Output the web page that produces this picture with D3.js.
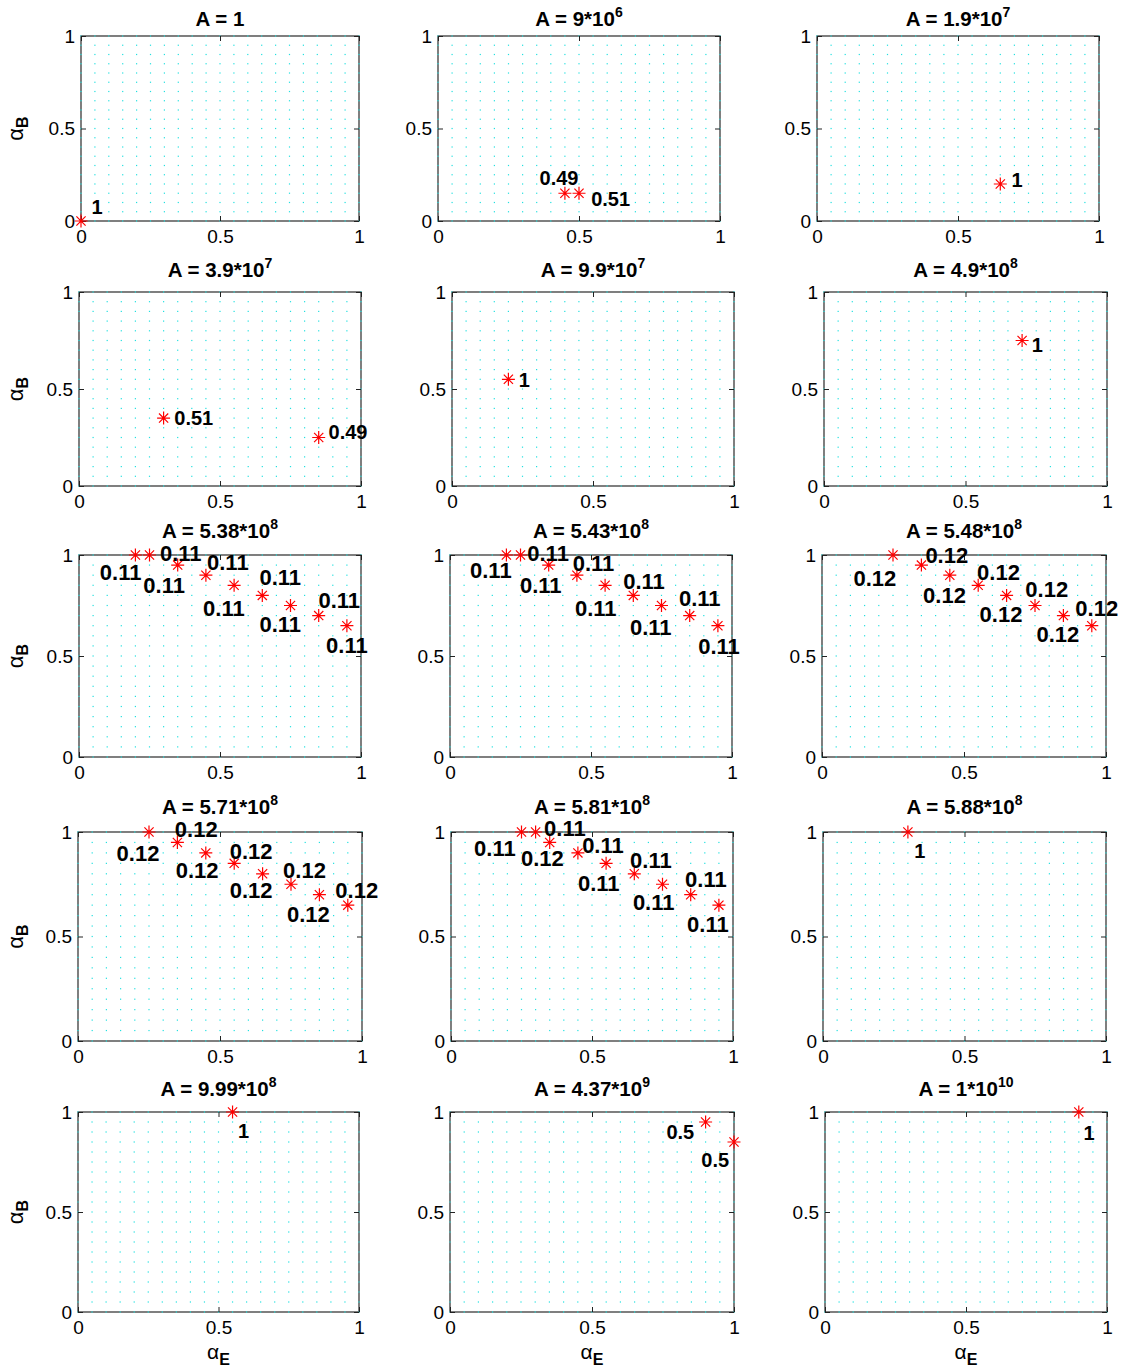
<!DOCTYPE html>
<html>
<head>
<meta charset="utf-8">
<script src="https://cdn.jsdelivr.net/npm/d3@7"></script>
<style>
  body { margin: 0; background: #fff; }
  text { font-family: "Liberation Sans", Arial, Helvetica, sans-serif; }
</style>
</head>
<body>
<script>
// panel titles: A = mantissa * 10^exp
const titleMant = ["1", "9", "1.9", "3.9", "9.9", "4.9", "5.38", "5.43", "5.48", "5.71", "5.81", "5.88", "9.99", "4.37", "1"]
const titleExp = [null, "6", "7", "7", "7", "8", "8", "8", "8", "8", "8", "8", "8", "9", "10"]

// point coordinates per panel
const alphaE = [
  [0],
  [0.45, 0.5],
  [0.65],
  [0.3, 0.85],
  [0.2],
  [0.7],
  [0.2, 0.25, 0.35, 0.45, 0.55, 0.65, 0.75, 0.85, 0.95],
  [0.2, 0.25, 0.35, 0.45, 0.55, 0.65, 0.75, 0.85, 0.95],
  [0.25, 0.35, 0.45, 0.55, 0.65, 0.75, 0.85, 0.95],
  [0.25, 0.35, 0.45, 0.55, 0.65, 0.75, 0.85, 0.95],
  [0.25, 0.3, 0.35, 0.45, 0.55, 0.65, 0.75, 0.85, 0.95],
  [0.3],
  [0.55],
  [0.9, 1.0],
  [0.9]
]
const alphaB = [
  [0],
  [0.15, 0.15],
  [0.2],
  [0.35, 0.25],
  [0.55],
  [0.75],
  [1, 1, 0.95, 0.9, 0.85, 0.8, 0.75, 0.7, 0.65],
  [1, 1, 0.95, 0.9, 0.85, 0.8, 0.75, 0.7, 0.65],
  [1, 0.95, 0.9, 0.85, 0.8, 0.75, 0.7, 0.65],
  [1, 0.95, 0.9, 0.85, 0.8, 0.75, 0.7, 0.65],
  [1, 1, 0.95, 0.9, 0.85, 0.8, 0.75, 0.7, 0.65],
  [1],
  [1],
  [0.95, 0.85],
  [1]
]

// text annotations (value, and where it was written in data units)
const shareText = [
  ["1"],
  ["0.49", "0.51"],
  ["1"],
  ["0.51", "0.49"],
  ["1"],
  ["1"],
  ["0.11", "0.11", "0.11", "0.11", "0.11", "0.11", "0.11", "0.11", "0.11"],
  ["0.11", "0.11", "0.11", "0.11", "0.11", "0.11", "0.11", "0.11", "0.11"],
  ["0.12", "0.12", "0.12", "0.12", "0.12", "0.12", "0.12", "0.12"],
  ["0.12", "0.12", "0.12", "0.12", "0.12", "0.12", "0.12", "0.12"],
  ["0.11", "0.11", "0.12", "0.11", "0.11", "0.11", "0.11", "0.11", "0.11"],
  ["1"],
  ["1"],
  ["0.5", "0.5"],
  ["1"]
]
const labelE = [
  [0.038],
  [0.36, 0.543],
  [0.69],
  [0.338, 0.885],
  [0.237],
  [0.734],
  [0.074, 0.287, 0.228, 0.454, 0.44, 0.64, 0.64, 0.849, 0.876],
  [0.071, 0.274, 0.248, 0.435, 0.443, 0.614, 0.638, 0.812, 0.88],
  [0.111, 0.364, 0.356, 0.546, 0.555, 0.716, 0.755, 0.892],
  [0.136, 0.341, 0.344, 0.534, 0.534, 0.722, 0.736, 0.906],
  [0.082, 0.33, 0.248, 0.465, 0.45, 0.635, 0.645, 0.83, 0.837],
  [0.322],
  [0.569],
  [0.762, 0.885],
  [0.917]
]
const labelB = [
  [0.078],
  [0.236, 0.118],
  [0.223],
  [0.352, 0.28],
  [0.545],
  [0.73],
  [0.917, 1.011, 0.851, 0.967, 0.736, 0.893, 0.658, 0.777, 0.554],
  [0.926, 1.011, 0.851, 0.959, 0.739, 0.871, 0.645, 0.786, 0.55],
  [0.887, 1.0, 0.804, 0.917, 0.709, 0.83, 0.609, 0.737],
  [0.9, 1.015, 0.819, 0.91, 0.724, 0.819, 0.607, 0.724],
  [0.923, 1.02, 0.876, 0.938, 0.756, 0.866, 0.665, 0.775, 0.56],
  [0.908],
  [0.908],
  [0.903, 0.76],
  [0.897]
]

const ticks = [0, 0.5, 1]
const gridSteps = d3.range(0, 21).map(k => k / 20)

// subplot layout (pixels)
const width = 1123, height = 1371
const rowTop = [36, 292, 555, 832, 1112]
const rowBottom = [221, 486, 757, 1041, 1312]
const rowTitle = [26, 277, 538, 814, 1096]
const colLeft = [[81, 438, 817], [79, 452, 824], [79, 450, 822], [78, 451, 823], [78, 450, 825]]
const colRight = [[359, 720, 1099], [361, 734, 1107], [361, 732, 1106], [362, 733, 1106], [359, 734, 1107]]

const svg = d3.select("body").append("svg")
    .attr("width", width)
    .attr("height", height)

const star = (r, d) => `M${-r},0H${r}M0,${-r}V${r}M${-d},${-d}L${d},${d}M${-d},${d}L${d},${-d}`

const styleAxis = (sel, labels) => {
    sel.select(".domain").remove()
    sel.selectAll(".tick line").attr("stroke", "#222")
    sel.selectAll(".tick text")
        .attr("fill", "#000")
        .style("font-size", "19px")
        .style("font-family", "'Liberation Sans', Arial, sans-serif")
    if (!labels) sel.selectAll(".tick text").remove()
}

titleMant.forEach((mant, i) => {
    const r = Math.floor(i / 3), c = i % 3
    const L = colLeft[r][c], R = colRight[r][c], T = rowTop[r], B = rowBottom[r]

    const x = d3.scaleLinear().domain([0, 1]).range([L, R])
    const y = d3.scaleLinear().domain([0, 1]).range([B, T])

    const g = svg.append("g")

    // frame
    g.append("rect")
        .attr("x", L).attr("y", T)
        .attr("width", R - L).attr("height", B - T)
        .attr("fill", "#fff")
        .attr("stroke", "#2a2a2a")
        .attr("stroke-width", 1.2)

    // dotted grid
    const lattice = d3.cross(gridSteps, gridSteps)
    g.append("g").selectAll("rect")
        .data(lattice)
        .enter()
        .append("rect")
        .attr("x", d => x(d[0]) - 0.6)
        .attr("y", d => y(d[1]) - 0.6)
        .attr("width", 1.2)
        .attr("height", 1.2)
        .attr("fill", "#22e0e0")

    // axes, ticks pointing inwards
    g.append("g").attr("transform", `translate(0,${B})`)
        .call(d3.axisBottom(x).tickValues(ticks).tickSizeInner(-5).tickSizeOuter(0).tickPadding(9).tickFormat(d3.format("")))
        .call(s => styleAxis(s, true))
    g.append("g").attr("transform", `translate(${L},0)`)
        .call(d3.axisLeft(y).tickValues(ticks).tickSizeInner(-5).tickSizeOuter(0).tickPadding(6).tickFormat(d3.format("")))
        .call(s => styleAxis(s, true))
    g.append("g").attr("transform", `translate(0,${T})`)
        .call(d3.axisTop(x).tickValues(ticks).tickSizeInner(-5).tickSizeOuter(0))
        .call(s => styleAxis(s, false))
    g.append("g").attr("transform", `translate(${R},0)`)
        .call(d3.axisRight(y).tickValues(ticks).tickSizeInner(-5).tickSizeOuter(0))
        .call(s => styleAxis(s, false))

    // title
    const title = g.append("text")
        .attr("x", (L + R) / 2)
        .attr("y", rowTitle[r])
        .attr("text-anchor", "middle")
        .style("font-size", "20.5px")
        .style("font-weight", "bold")
        .text(titleExp[i] ? `A = ${mant}*10` : `A = ${mant}`)
    if (titleExp[i]) {
        title.append("tspan")
            .attr("dy", -9)
            .style("font-size", "14px")
            .text(titleExp[i])
    }

    // points
    const pts = alphaE[i].map((e, k) => ({ e: e, b: alphaB[i][k] }))
    g.append("g").selectAll("path")
        .data(pts)
        .enter()
        .append("path")
        .attr("transform", d => `translate(${x(d.e)},${y(d.b)})`)
        .attr("d", star(6.5, 4.6))
        .attr("fill", "none")
        .attr("stroke", "#ff0000")
        .attr("stroke-width", 1.2)

    // share labels
    const labs = shareText[i].map((t, k) => ({ t: t, e: labelE[i][k], b: labelB[i][k] }))
    g.append("g").selectAll("text")
        .data(labs)
        .enter()
        .append("text")
        .attr("x", d => x(d.e))
        .attr("y", d => y(d.b))
        .attr("dy", "0.36em")
        .style("font-size", pts.length > 3 ? "22px" : "20px")
        .style("font-weight", "bold")
        .attr("fill", "#000")
        .text(d => d.t)

    // axis labels
    if (c === 0) {
        const yl = g.append("text")
            .attr("transform", `translate(23,${(T + B) / 2}) rotate(-90)`)
            .attr("text-anchor", "middle")
            .style("font-size", "22px")
            .text("\u03b1")
        yl.append("tspan").attr("dy", 5).style("font-size", "16px").style("font-weight", "bold").text("B")
    }
    if (r === 4) {
        const xl = g.append("text")
            .attr("x", (L + R) / 2)
            .attr("y", B + 47)
            .attr("text-anchor", "middle")
            .style("font-size", "21px")
            .text("\u03b1")
        xl.append("tspan").attr("dy", 6).style("font-size", "16px").style("font-weight", "bold").text("E")
    }
})
</script>
</body>
</html>
